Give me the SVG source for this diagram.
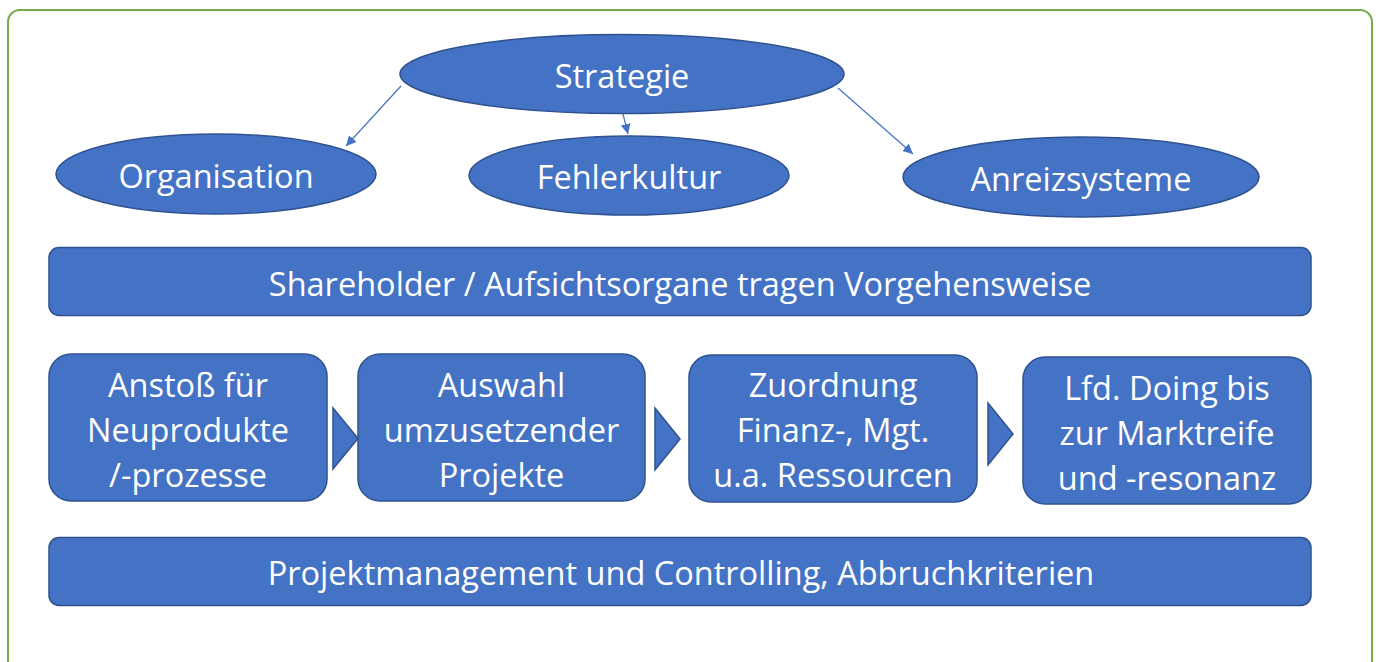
<svg xmlns="http://www.w3.org/2000/svg" width="1378" height="662" viewBox="0 0 1378 662">
<style>
.shape{fill:#4472C4;stroke:#2F528F;stroke-width:1.5}
.t{fill:#FFFFFF;font-family:"Open Sans","Noto Sans","Liberation Sans",sans-serif;font-size:32.5px;text-anchor:middle}
.conn{stroke:#4472C4;stroke-width:1.2;fill:none}
</style>
<defs>
<marker id="ah" viewBox="0 0 10 10" refX="10" refY="5" markerWidth="10" markerHeight="10" markerUnits="userSpaceOnUse" orient="auto">
<path d="M0,0 L10,5 L0,10 z" fill="#4472C4"/>
</marker>
</defs>
<rect x="8" y="10" width="1364" height="670" rx="12" fill="#FFFFFF" stroke="#70AD47" stroke-width="2"/>
<g id="connectors">
<line class="conn" x1="401" y1="86" x2="346" y2="146" marker-end="url(#ah)"/>
<line class="conn" x1="623" y1="114" x2="628" y2="134" marker-end="url(#ah)"/>
<line class="conn" x1="838" y1="88" x2="913" y2="154" marker-end="url(#ah)"/>
</g>
<g id="strategie">
<ellipse class="shape" cx="622" cy="74" rx="222" ry="39.5"/>
<text class="t" x="622" y="88">Strategie</text>
</g>
<g id="organisation">
<ellipse class="shape" cx="216" cy="174" rx="160" ry="40"/>
<text class="t" x="216" y="188">Organisation</text>
</g>
<g id="fehlerkultur">
<ellipse class="shape" cx="629" cy="175.5" rx="160" ry="39.5"/>
<text class="t" x="629" y="189">Fehlerkultur</text>
</g>
<g id="anreizsysteme">
<ellipse class="shape" cx="1081" cy="177" rx="178" ry="40"/>
<text class="t" x="1081" y="191">Anreizsysteme</text>
</g>
<g id="shareholder">
<rect class="shape" x="49" y="247.5" width="1262" height="68" rx="10"/>
<text class="t" x="680" y="296">Shareholder / Aufsichtsorgane tragen Vorgehensweise</text>
</g>
<g id="step1">
<rect class="shape" x="49" y="354" width="278" height="147" rx="22"/>
<text class="t" x="188" y="397">Anstoß für</text>
<text class="t" x="188" y="442">Neuprodukte</text>
<text class="t" x="188" y="487">/-prozesse</text>
</g>
<g id="chevron1">
<polygon class="shape" points="333,408 358,438.5 333,469"/>
</g>
<g id="step2">
<rect class="shape" x="358" y="354" width="287" height="147" rx="22"/>
<text class="t" x="501.5" y="397">Auswahl</text>
<text class="t" x="501.5" y="442">umzusetzender</text>
<text class="t" x="501.5" y="487">Projekte</text>
</g>
<g id="chevron2">
<polygon class="shape" points="655,408 680,439 655,470"/>
</g>
<g id="step3">
<rect class="shape" x="689" y="355" width="288" height="147" rx="22"/>
<text class="t" x="833" y="397">Zuordnung</text>
<text class="t" x="833" y="442">Finanz-, Mgt.</text>
<text class="t" x="833" y="487">u.a. Ressourcen</text>
</g>
<g id="chevron3">
<polygon class="shape" points="988,403 1013,434 988,465"/>
</g>
<g id="step4">
<rect class="shape" x="1023" y="357" width="288" height="147" rx="22"/>
<text class="t" x="1167" y="400">Lfd. Doing bis</text>
<text class="t" x="1167" y="445">zur Marktreife</text>
<text class="t" x="1167" y="490">und -resonanz</text>
</g>
<g id="controlling">
<rect class="shape" x="49" y="537.5" width="1262" height="68" rx="10"/>
<text class="t" x="681" y="585">Projektmanagement und Controlling, Abbruchkriterien</text>
</g>
</svg>
